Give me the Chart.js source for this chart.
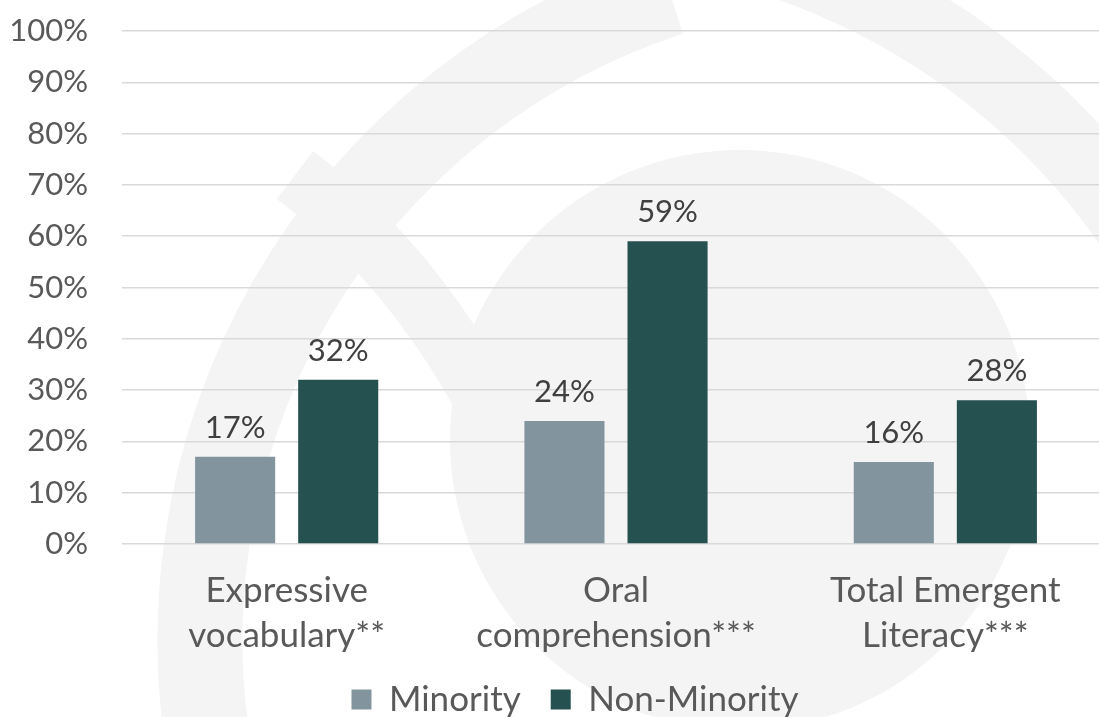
<!DOCTYPE html>
<html>
<head>
<meta charset="utf-8">
<script src="https://cdn.jsdelivr.net/npm/chart.js@4/dist/chart.umd.min.js"></script>
<style>
  html, body { margin: 0; padding: 0; background: #fff; overflow: hidden; }
  .graphic { width: 1110px; height: 717px; position: relative; }
</style>
</head>
<body>
<div class="graphic"><canvas id="myChart"></canvas></div>
<script>
const categories = [
    ['Expressive', 'vocabulary**'],
    ['Oral', 'comprehension***'],
    ['Total Emergent', 'Literacy***']
];
const minority = [17, 24, 16];
const nonMinority = [32, 59, 28];
const yTicks = [0, 10, 20, 30, 40, 50, 60, 70, 80, 90, 100];

const fontFamily = 'Lato, "Open Sans", sans-serif';

// faint eye emblem behind the plot
const emblem = {
    id: 'emblem',
    beforeDraw (chart) {
        const ctx = chart.ctx;
        const deg = Math.PI / 180;
        ctx.save();
        ctx.fillStyle = '#f4f4f4';
        ctx.strokeStyle = '#f4f4f4';
        ctx.lineWidth = 85;
        ctx.beginPath();
        ctx.arc(880, 640, 680, 168 * deg, 252 * deg);
        ctx.stroke();
        ctx.lineWidth = 75;
        ctx.beginPath();
        ctx.arc(560, 620, 695, -82 * deg, -20 * deg);
        ctx.stroke();
        ctx.lineWidth = 60;
        ctx.beginPath();
        ctx.moveTo(295, 175);
        ctx.quadraticCurveTo(420, 270, 500, 430);
        ctx.stroke();
        ctx.beginPath();
        ctx.arc(740, 440, 290, 0, Math.PI * 2);
        ctx.fill();
        ctx.restore();
    }
};

// percentage above every bar
const valueLabels = {
    id: 'valueLabels',
    afterDatasetsDraw (chart) {
        const ctx = chart.ctx;
        ctx.save();
        ctx.font = `31px ${fontFamily}`;
        ctx.fillStyle = '#404040';
        ctx.textAlign = 'center';
        ctx.textBaseline = 'alphabetic';
        chart.data.datasets.forEach((ds, i) => {
            chart.getDatasetMeta(i).data.forEach((bar, j) => {
                ctx.fillText(ds.data[j] + '%', bar.x, bar.y - 19);
            });
        });
        ctx.restore();
    }
};

// legend sits a little right of centre
const legendShift = {
    id: 'legendShift',
    afterLayout (chart) {
        chart.legend.left += 20;
        chart.legend.right += 20;
    }
};

const data = {
    labels: categories,
    datasets: [{
        label: 'Minority',
        backgroundColor: '#82959f',
        data: minority
    }, {
        label: 'Non-Minority',
        backgroundColor: '#255150',
        data: nonMinority
    }]
};

const config = {
    type: 'bar',
    data,
    plugins: [emblem, valueLabels, legendShift],
    options: {
        responsive: true,
        maintainAspectRatio: false,
        animation: false,
        layout: { padding: { top: 31, right: 0, bottom: -10, left: 0 } },
        datasets: {
            bar: { categoryPercentage: 0.626, barPercentage: 0.777 }
        },
        scales: {
            x: {
                grid: { display: false, drawTicks: false },
                border: { display: false },
                ticks: {
                    color: '#595959',
                    font: { family: fontFamily, size: 35, lineHeight: 1.29 },
                    padding: 24,
                    maxRotation: 0
                },
                afterFit: scale => {
                    scale.height = 108;
                    scale.paddingLeft = 0;
                    scale.paddingRight = 0;
                }
            },
            y: {
                min: 0,
                max: 100,
                afterBuildTicks: scale => {
                    scale.ticks = yTicks.map(v => ({ value: v }));
                },
                grid: { color: '#d9d9d9', lineWidth: 1.5, drawTicks: false },
                border: { display: false },
                ticks: {
                    color: '#595959',
                    font: { family: fontFamily, size: 31 },
                    padding: 34,
                    callback: v => v + '%'
                },
                afterFit: scale => {
                    scale.width = 122;
                    scale.paddingTop = 0;
                    scale.paddingBottom = 0;
                }
            }
        },
        plugins: {
            tooltip: { enabled: false },
            legend: {
                position: 'bottom',
                labels: {
                    color: '#595959',
                    font: { family: fontFamily, size: 35 },
                    boxWidth: 20,
                    boxHeight: 20,
                    padding: 30
                }
            }
        }
    }
};

new Chart(document.getElementById('myChart'), config);
</script>
</body>
</html>
